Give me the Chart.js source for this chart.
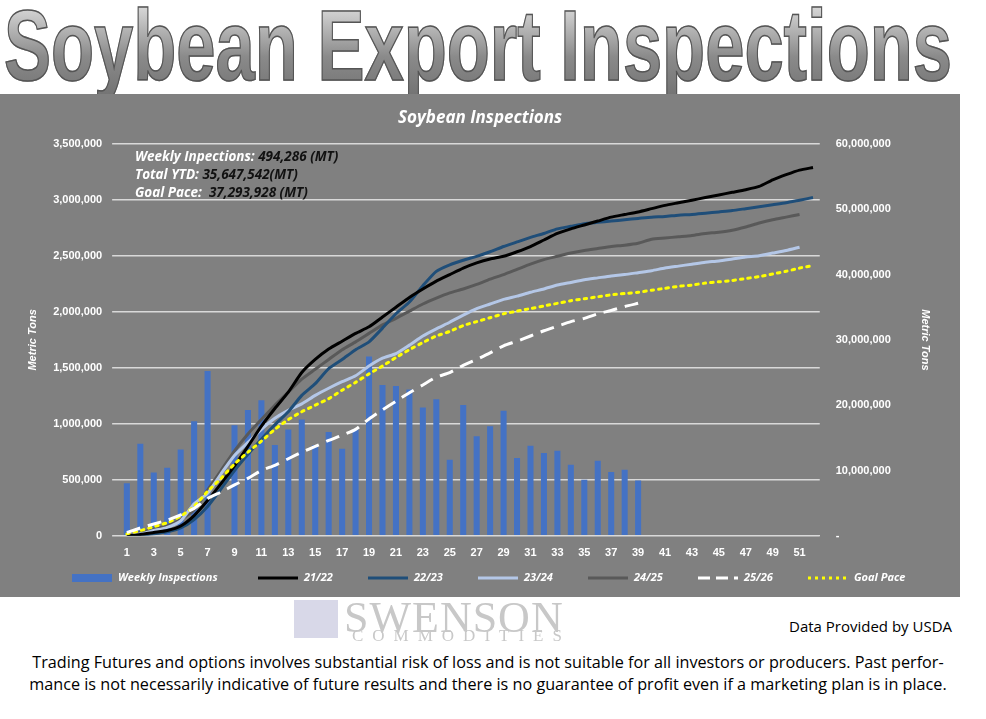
<!DOCTYPE html>
<html>
<head>
<meta charset="utf-8">
<script src="https://cdn.jsdelivr.net/npm/chart.js@4.4.1/dist/chart.umd.min.js"></script>
<style>
  body { margin: 0; background: #fff; width: 986px; height: 719px; overflow: hidden; font-family: "Liberation Sans", Arial, sans-serif; }
  #title { position: absolute; left: -265px; top: -12px; width: 1486px; text-align: center; font-family: "Liberation Sans", sans-serif; font-weight: bold; font-size: 100px; letter-spacing: 0px; transform: scaleX(0.705); transform-origin: center; color: transparent; background: linear-gradient(#f4f4f4, #8a8a8a 60%, #6f6f6f); -webkit-background-clip: text; background-clip: text; -webkit-text-stroke: 1.5px #555; white-space: nowrap; }
  #wrap { position: absolute; left: 0; top: 94px; width: 960px; height: 503px; background: #808080; }
  #logo { position: absolute; left: 292px; top: 592px; width: 330px; height: 56px; }
  #logo .big { position: absolute; left: 52px; top: 0; font-family: "Liberation Serif", serif; font-size: 44px; color: #c8c8c8; letter-spacing: 1px; }
  #logo .small { position: absolute; left: 60px; top: 34px; font-family: "Liberation Serif", serif; font-size: 17px; color: #c8c8c8; letter-spacing: 9px; }
  #logo .icon { position: absolute; left: 2px; top: 8px; width: 44px; height: 38px; background: #d8d8e8; }
  #usda { position: absolute; left: 789px; top: 616px; font-size: 15px; font-family: "Open Sans", sans-serif; color: #000; }
  #disc { position: absolute; left: 0; top: 651px; width: 976px; text-align: center; font-size: 16.2px; line-height: 22px; font-family: "Open Sans", sans-serif; color: #000; }
</style>
</head>
<body>
<div id="title">Soybean Export Inspections</div>
<div id="wrap"><canvas id="chart" width="960" height="503"></canvas></div>
<div id="logo"><div class="icon"></div><div class="big">SWENSON</div><div class="small">COMMODITIES</div></div>
<div id="usda">Data Provided by USDA</div>
<div id="disc">Trading Futures and options involves substantial risk of loss and is not suitable for all investors or producers. Past perfor-<br>mance is not necessarily indicative of future results and there is no guarantee of profit even if a marketing plan is in place.</div>
<script>
const weeks = Array.from({ length: 52 }, (_, i) => String(i + 1));

// weekly inspections 25/26 (MT, left axis)
const weekly = [470000, 823000, 566000, 608000, 770000, 1024000, 1473000, null, 988000, 1123000,
  1210000, 811000, 950000, 1039000, 811000, 928000, 778000, 949000, 1602000, 1347000,
  1338000, 1308000, 1147000, 1219000, 680000, 1168000, 889000, 979000, 1117000, 695000,
  805000, 740000, 760000, 635000, 500000, 671000, 569000, 590000, 494286];

// cumulative, millions MT (right axis)
const y2122 = [0, 0.2, 0.5, 0.8, 1.5, 3.1, 5.4, 8, 10.7, 13.7, 16.8, 19.5, 22, 25, 27, 28.6, 29.8, 31, 32, 33.5,
  35, 36.5, 37.8, 39, 40, 41, 41.8, 42.4, 42.8, 43.5, 44.3, 45.3, 46.3, 47, 47.6, 48.2, 48.8, 49.2, 49.6, 50.1,
  50.6, 51, 51.4, 51.8, 52.2, 52.6, 53, 53.5, 54.5, 55.3, 56, 56.4];
const y2223 = [0, 0.1, 0.3, 0.6, 1.2, 2.5, 4.5, 7.2, 10, 12.5, 14.8, 17, 19, 21.5, 23.3, 25.6, 27, 28.5, 29.7, 31.8,
  34, 35.8, 38.3, 40.5, 41.5, 42.2, 42.8, 43.5, 44.3, 45, 45.7, 46.3, 47, 47.4, 47.8, 48, 48.2, 48.4, 48.6, 48.8,
  48.9, 49.1, 49.2, 49.4, 49.6, 49.8, 50.1, 50.4, 50.7, 51, 51.4, 51.8];
const y2324 = [0, 0.3, 0.8, 1.3, 2.3, 4.9, 6.5, 9.5, 12.3, 14.3, 16.3, 18, 19.2, 20.2, 21.5, 22.6, 23.6, 24.5, 26, 27.2,
  27.9, 29.2, 30.6, 31.7, 32.7, 33.8, 34.8, 35.5, 36.2, 36.7, 37.3, 37.8, 38.4, 38.8, 39.2, 39.5, 39.8, 40, 40.3, 40.6,
  41, 41.3, 41.6, 41.9, 42.1, 42.4, 42.7, 42.9, 43.3, 43.7, 44.2];
const y2425 = [0, 0.5, 1, 1.5, 2.5, 4, 7, 10, 13, 15.6, 17.8, 20, 22, 24, 25.5, 27, 28.5, 29.7, 31, 32.3,
  33.3, 34.4, 35.5, 36.4, 37.2, 37.8, 38.5, 39.3, 40, 40.8, 41.6, 42.3, 42.8, 43.3, 43.7, 44, 44.3, 44.5, 44.8, 45.4,
  45.6, 45.8, 46, 46.3, 46.5, 46.8, 47.3, 47.9, 48.4, 48.8, 49.2];
const y2526 = [0.5, 1.2, 1.8, 2.4, 3.2, 4.2, 5.7, 6.7, 7.8, 8.8, 10, 10.8, 11.8, 12.8, 13.7, 14.6, 15.4, 16.3, 17.9, 19.3,
  20.6, 21.9, 23.1, 24.3, 25, 26.1, 27, 28, 29.1, 29.8, 30.6, 31.4, 32.1, 32.8, 33.3, 34, 34.5, 35.1, 35.6];
const goal = [0.3, 0.8, 1.4, 2, 3, 4.5, 6.8, 8.8, 11, 12.8, 14.5, 16.3, 17.8, 19, 20, 21, 22.3, 23.5, 24.8, 26,
  27.3, 28.5, 29.6, 30.6, 31.3, 32.2, 32.8, 33.4, 34, 34.4, 34.8, 35.2, 35.6, 36, 36.3, 36.6, 36.9, 37.1, 37.3, 37.6,
  37.9, 38.2, 38.4, 38.7, 38.9, 39.1, 39.4, 39.7, 40.1, 40.5, 41, 41.4];

const toMT = a => a.map(v => v * 1e6);
const fmt = v => v.toLocaleString("en-US");

const lineDs = (label, data, color, extra) => Object.assign({
  type: "line", label, data: toMT(data), yAxisID: "y2", borderColor: color,
  borderWidth: 3, pointRadius: 0, tension: 0.2, fill: false, order: 1
}, extra || {});

const overlay = {
  id: "overlay",
  afterDraw(chart) {
    const c = chart.ctx;
    c.save();
    c.fillStyle = "#fff";
    c.font = "italic bold 17px 'Open Sans', sans-serif";
    c.textAlign = "center";
    c.fillText("Soybean Inspections", 480, 29);
    c.textAlign = "left";
    const notes = [["Weekly Inpections: ", "494,286 (MT)"], ["Total YTD: ", "35,647,542(MT)"], ["Goal Pace:  ", "37,293,928 (MT)"]];
    notes.forEach((n, i) => {
      c.font = "italic bold 13.5px 'Open Sans', sans-serif";
      c.fillStyle = "#fff";
      c.fillText(n[0], 135, 67 + i * 18);
      const w = c.measureText(n[0]).width;
      c.fillStyle = "#111";
      c.fillText(n[1], 135 + w, 67 + i * 18);
    });
    const items = [
      ["Weekly Inspections", "bar", "#4472c4"], ["21/22", "line", "#000"], ["22/23", "line", "#1f4e79"],
      ["23/24", "line", "#b4c7e7"], ["24/25", "line", "#595959"], ["25/26", "dash", "#fff"], ["Goal Pace", "dot", "#ffff00"]
    ];
    const xs = [72, 258, 368, 478, 588, 698, 808];
    c.font = "italic bold 11px 'Open Sans', sans-serif";
    items.forEach((it, i) => {
      const x = xs[i], y = 484;
      c.strokeStyle = it[2];
      c.fillStyle = it[2];
      if (it[1] === "bar") c.fillRect(x, y - 4, 40, 8);
      else {
        c.lineWidth = 3;
        c.setLineDash(it[1] === "dash" ? [12, 6] : it[1] === "dot" ? [3, 4] : []);
        c.beginPath(); c.moveTo(x, y); c.lineTo(x + 40, y); c.stroke();
        c.setLineDash([]);
      }
      c.fillStyle = "#fff";
      c.textBaseline = "middle";
      c.fillText(it[0], x + 46, y);
    });
    c.restore();
  }
};

new Chart(document.getElementById("chart"), {
  data: {
    labels: weeks,
    datasets: [
      { type: "bar", label: "Weekly Inspections", data: weekly, yAxisID: "y", backgroundColor: "#4472c4",
        barPercentage: 0.45, categoryPercentage: 1, order: 10 },
      lineDs("21/22", y2122, "#000000"),
      lineDs("22/23", y2223, "#1f4e79"),
      lineDs("23/24", y2324, "#b4c7e7"),
      lineDs("24/25", y2425, "#595959"),
      lineDs("25/26", y2526, "#ffffff", { borderDash: [14, 8], order: 0 }),
      lineDs("Goal Pace", goal, "#ffff00", { borderDash: [2.5, 5], borderCapStyle: "round", order: 0 })
    ]
  },
  options: {
    responsive: false,
    animation: false,
    layout: { padding: { top: 50, bottom: 34, left: 22, right: 24 } },
    plugins: { legend: { display: false }, tooltip: { enabled: false } },
    scales: {
      x: {
        grid: { display: false },
        border: { color: "#d9d9d9" },
        ticks: { color: "#fff", font: { weight: "bold", size: 11 }, autoSkip: false, maxRotation: 0,
          callback: (v, i) => (i % 2 === 0 ? weeks[i] : "") }
      },
      y: {
        position: "left", min: 0, max: 3500000,
        ticks: { stepSize: 500000, color: "#fff", font: { weight: "bold", size: 11 }, padding: 10, callback: v => fmt(v) },
        grid: { color: "#d9d9d9", lineWidth: 1.5 }, border: { display: false },
        title: { display: true, text: "Metric Tons", color: "#fff", font: { style: "italic", weight: "bold", size: 11 } }
      },
      y2: {
        position: "right", min: 0, max: 60000000,
        ticks: { stepSize: 10000000, color: "#fff", font: { weight: "bold", size: 11 }, padding: 8, callback: v => (v === 0 ? "-" : fmt(v)) },
        grid: { display: false }, border: { display: false },
        title: { display: true, text: "Metric Tons", color: "#fff", font: { style: "italic", weight: "bold", size: 11 }, padding: { top: 4, bottom: 20 } }
      }
    }
  },
  plugins: [overlay]
});
</script>
</body>
</html>
